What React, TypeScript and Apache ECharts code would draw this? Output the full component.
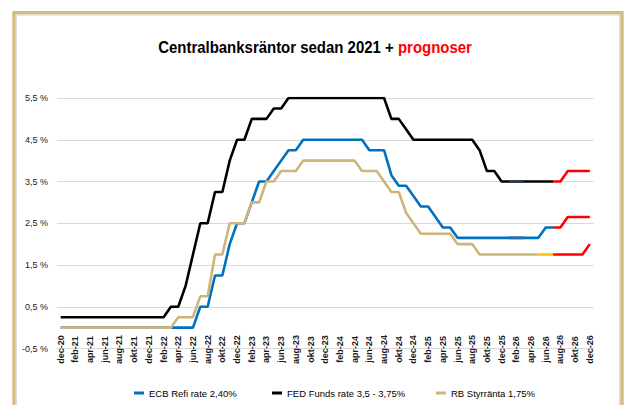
import React, { useEffect, useRef } from "react";
import * as echarts from "echarts";

// Monthly categories dec-20 .. dec-26
const months: string[] = [
  "dec-20",
  "jan-21", "feb-21", "mar-21", "apr-21", "maj-21", "jun-21", "jul-21", "aug-21", "sep-21", "okt-21", "nov-21", "dec-21",
  "jan-22", "feb-22", "mar-22", "apr-22", "maj-22", "jun-22", "jul-22", "aug-22", "sep-22", "okt-22", "nov-22", "dec-22",
  "jan-23", "feb-23", "mar-23", "apr-23", "maj-23", "jun-23", "jul-23", "aug-23", "sep-23", "okt-23", "nov-23", "dec-23",
  "jan-24", "feb-24", "mar-24", "apr-24", "maj-24", "jun-24", "jul-24", "aug-24", "sep-24", "okt-24", "nov-24", "dec-24",
  "jan-25", "feb-25", "mar-25", "apr-25", "maj-25", "jun-25", "jul-25", "aug-25", "sep-25", "okt-25", "nov-25", "dec-25",
  "jan-26", "feb-26", "mar-26", "apr-26", "maj-26", "jun-26", "jul-26", "aug-26", "sep-26", "okt-26", "nov-26", "dec-26",
];

const ecbRate: number[] = [
  0,
  0, 0, 0, 0, 0, 0, 0, 0, 0, 0, 0, 0,
  0, 0, 0, 0, 0, 0, 0.5, 0.5, 1.25, 1.25, 2.0, 2.5,
  2.5, 3.0, 3.5, 3.5, 3.75, 4.0, 4.25, 4.25, 4.5, 4.5, 4.5, 4.5,
  4.5, 4.5, 4.5, 4.5, 4.5, 4.25, 4.25, 4.25, 3.65, 3.4, 3.4, 3.15,
  2.9, 2.9, 2.65, 2.4, 2.4, 2.15, 2.15, 2.15, 2.15, 2.15, 2.15, 2.15,
  2.15, 2.15, 2.15, 2.15, 2.15, 2.4, 2.4, 2.4, 2.65, 2.65, 2.65, 2.65,
];

const fedRate: number[] = [
  0.25,
  0.25, 0.25, 0.25, 0.25, 0.25, 0.25, 0.25, 0.25, 0.25, 0.25, 0.25, 0.25,
  0.25, 0.25, 0.5, 0.5, 1.0, 1.75, 2.5, 2.5, 3.25, 3.25, 4.0, 4.5,
  4.5, 5.0, 5.0, 5.0, 5.25, 5.25, 5.5, 5.5, 5.5, 5.5, 5.5, 5.5,
  5.5, 5.5, 5.5, 5.5, 5.5, 5.5, 5.5, 5.5, 5.0, 5.0, 4.75, 4.5,
  4.5, 4.5, 4.5, 4.5, 4.5, 4.5, 4.5, 4.5, 4.25, 3.75, 3.75, 3.5,
  3.5, 3.5, 3.5, 3.5, 3.5, 3.5, 3.5, 3.5, 3.75, 3.75, 3.75, 3.75,
];

const rbRate: number[] = [
  0,
  0, 0, 0, 0, 0, 0, 0, 0, 0, 0, 0, 0,
  0, 0, 0, 0.25, 0.25, 0.25, 0.75, 0.75, 1.75, 1.75, 2.5, 2.5,
  2.5, 3.0, 3.0, 3.5, 3.5, 3.75, 3.75, 3.75, 4.0, 4.0, 4.0, 4.0,
  4.0, 4.0, 4.0, 4.0, 3.75, 3.75, 3.75, 3.5, 3.25, 3.25, 2.75, 2.5,
  2.25, 2.25, 2.25, 2.25, 2.25, 2.0, 2.0, 2.0, 1.75, 1.75, 1.75, 1.75,
  1.75, 1.75, 1.75, 1.75, 1.75, 1.75, 1.75, 1.75, 1.75, 1.75, 1.75, 2.0,
];

const seriesNames = ["ECB Refi rate 2,40%", "FED Funds rate 3,5 - 3,75%", "RB Styrränta 1,75%"];
const titleMain = "Centralbanksräntor sedan 2021 + ";
const titleRed = "prognoser";

const forecastFrom = "jul-26";
const rbBridgeFrom = "maj-26";
const markFrom = "jan-26";
const markTo = "mar-26";

const yMin = -0.5;
const yMax = 5.5;
const yStep = 1;

function part(arr: number[], from: string, to: string) {
  const a = months.indexOf(from);
  const b = months.indexOf(to);
  return arr.map((v, i) => (i >= a && i <= b ? v : null));
}

const LAST = "dec-26";
const FIRST = "dec-20";

export default function App() {
  const ref = useRef<HTMLDivElement>(null);
  useEffect(() => {
    if (!ref.current) return;
    const chart = echarts.init(ref.current, null, { renderer: "svg" });
    const font = "'Liberation Sans', Arial, sans-serif";
    const line = (name: string, data: (number | null)[], color: string, z: number) => ({
      name,
      type: "line",
      data,
      showSymbol: false,
      symbol: "none",
      connectNulls: false,
      z,
      lineStyle: { color, width: 2.6 },
      itemStyle: { color },
    });
    const legendBase = {
      top: 383,
      icon: "rect",
      itemWidth: 10,
      itemHeight: 3,
      itemGap: 0,
      textStyle: { fontFamily: font, fontSize: 9.5, color: "#000" },
    };
    chart.setOption({
      animation: false,
      backgroundColor: "#fff",
      legend: [
        { ...legendBase, left: 129, data: [seriesNames[0]] },
        { ...legendBase, left: 267, data: [seriesNames[1]] },
        { ...legendBase, left: 431, data: [seriesNames[2]] },
      ],
      grid: { left: 57, right: 34.5, top: 98, bottom: 56.5, containLabel: false },
      xAxis: {
        type: "category",
        data: months,
        boundaryGap: true,
        axisLine: { onZero: false, lineStyle: { color: "#d9d9d9", width: 1 } },
        axisTick: { show: false },
        axisLabel: {
          interval: 1,
          rotate: 90,
          align: "center",
          verticalAlign: "middle",
          margin: 1,
          fontFamily: font,
          fontWeight: "bold",
          fontSize: 9,
          color: "#1a1a1a",
        },
      },
      yAxis: {
        type: "value",
        min: yMin,
        max: yMax,
        interval: yStep,
        axisLine: { show: false },
        axisTick: { show: false },
        splitLine: { lineStyle: { color: "#d9d9d9", width: 1 } },
        axisLabel: {
          margin: 9,
          fontFamily: font,
          fontSize: 9,
          color: "#1a1a1a",
          formatter: (v: number) => v.toFixed(1).replace(".", ",") + " %",
        },
      },
      series: [
        line(seriesNames[0], part(ecbRate, FIRST, forecastFrom), "#0070c0", 2),
        line("ecb-mark", part(ecbRate, markFrom, markTo), "#2f6aa8", 3),
        line("ecb-forecast", part(ecbRate, forecastFrom, LAST), "#ff0000", 3),
        line(seriesNames[1], part(fedRate, FIRST, forecastFrom), "#000000", 4),
        line("fed-mark", part(fedRate, markFrom, markTo), "#2e3b55", 5),
        line("fed-forecast", part(fedRate, forecastFrom, LAST), "#ff0000", 5),
        line(seriesNames[2], part(rbRate, FIRST, rbBridgeFrom), "#cdb57c", 6),
        line("rb-bridge", part(rbRate, rbBridgeFrom, forecastFrom), "#ffc000", 7),
        line("rb-forecast", part(rbRate, forecastFrom, LAST), "#ff0000", 7),
      ],
      graphic: [
        {
          type: "rect",
          shape: { x: 14, y: 12.7, width: 608, height: 440 },
          style: { fill: "none", stroke: "#d3bc7c", lineWidth: 3.4 },
          silent: true,
        },
        {
          type: "rect",
          shape: { x: 16.4, y: 15, width: 603.2, height: 440 },
          style: { fill: "none", stroke: "#d8d8d8", lineWidth: 1 },
          silent: true,
        },
        {
          type: "text",
          x: 315,
          y: 47,
          scaleX: 0.88,
          silent: true,
          style: {
            text: "{a|" + titleMain + "}{b|" + titleRed + "}",
            align: "center",
            verticalAlign: "middle",
            rich: {
              a: { fontFamily: font, fontWeight: "bold", fontSize: 17, fill: "#000" },
              b: { fontFamily: font, fontWeight: "bold", fontSize: 17, fill: "#ff0000" },
            },
          },
        },
      ],
    });
    return () => chart.dispose();
  }, []);
  return (
    <div
      ref={ref}
      style={{ position: "fixed", left: 0, top: 0, width: 628, height: 405 }}
    />
  );
}
